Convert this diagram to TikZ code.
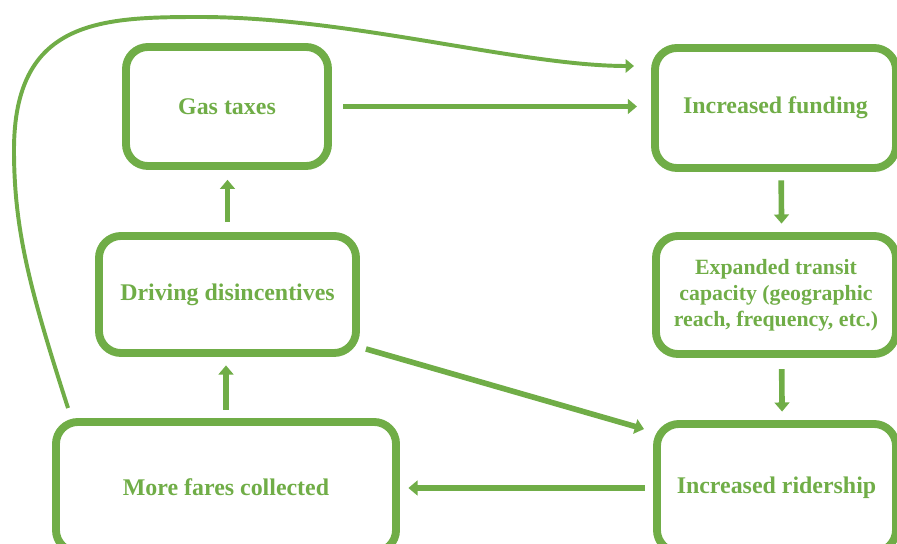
\documentclass[tikz,border=0pt]{standalone}
\usepackage{fontspec}
\setmainfont{Liberation Serif}
\usetikzlibrary{arrows.meta, calc, positioning}
\definecolor{loopgreen}{RGB}{112,173,71}

\begin{document}
\begin{tikzpicture}[x=0.025cm, y=-0.025cm,
    box/.style={draw=loopgreen, line width=5.6pt, rounded corners=0.55cm, align=center,
        text=loopgreen, font=\fontsize{17}{20}\selectfont\bfseries, inner sep=0pt},
    arr/.style={draw=loopgreen, line width=4pt, -{Triangle[width=10.5pt,length=6.5pt]}},
    thinarr/.style={draw=loopgreen, line width=2.8pt, -{Triangle[width=9.5pt,length=6pt]}}]
    \useasboundingbox (0,0) rectangle (897,544);

    % Boxes
    \node[box, minimum width=5.05cm, minimum height=2.975cm] (gas) at (227,106.5) {Gas taxes};
    \node[box, minimum width=6.025cm, minimum height=3.0cm] (fund) at (775.5,108) {Increased funding};
    \node[box, minimum width=6.425cm, minimum height=2.925cm] (drive) at (227.5,294.5) {Driving disincentives};
    \node[box, minimum width=6.0cm, minimum height=2.95cm, font=\fontsize{15.5}{18.4}\selectfont\bfseries]
        (exp) at (776,295) {Expanded transit\\capacity (geographic\\reach, frequency, etc.)};
    \node[box, minimum width=8.5cm, minimum height=3.25cm] (fares) at (226,487) {More fares collected};
    \node[box, minimum width=5.975cm, minimum height=3.2cm] (rider) at (776.5,488) {Increased ridership};

    % Straight arrows
    \draw[arr, shorten <=8pt, shorten >=10pt] (gas.east) -- (gas.east -| fund.west);
    \draw[arr, shorten <=6pt, shorten >=6pt] ([xshift=4pt]fund.south) -- ([xshift=4pt]exp.north);
    \draw[arr, shorten <=8pt, shorten >=6pt] ([xshift=4pt]exp.south) -- ([xshift=4pt]rider.north);
    \draw[arr, shorten <=6pt, shorten >=6pt] (rider.west) -- (rider.west -| fares.east);
    \draw[arr, shorten <=6pt, shorten >=6pt] (fares.north) -- (fares.north |- drive.south);
    \draw[arr, shorten <=7pt, shorten >=7pt] (drive.north) -- (drive.north |- gas.south);
    \draw[arr] ([shift={(6,-8)}]drive.south east) -- ([shift={(-9,9)}]rider.north west);

    % Loop back to funding
    \coordinate (loopstart) at ([shift={(16,-10)}]fares.north west);
    \coordinate (loopend) at ([shift={(-17,-42)}]fund.west);
    \draw[thinarr] (loopstart) .. controls (30,290) and (14,230) .. (14,150)
        .. controls (14,20) and (100,17) .. (200,17)
        .. controls (350,17) and (520,66) .. (loopend);
\end{tikzpicture}
\end{document}
